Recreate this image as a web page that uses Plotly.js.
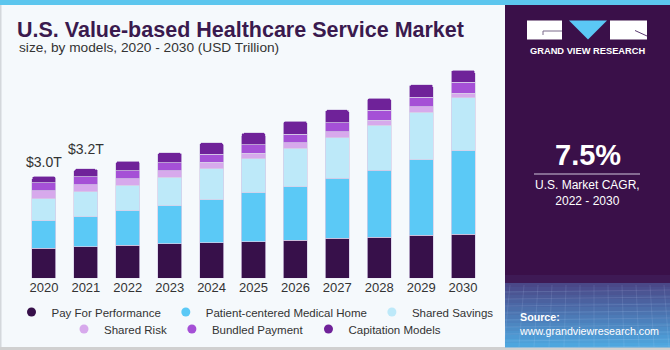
<!DOCTYPE html>
<html>
<head>
<meta charset="utf-8">
<script src="https://cdn.plot.ly/plotly-3.0.1.min.js"></script>
<style>
  html, body { margin: 0; padding: 0; background: #f5f9fc; }
  #chart { width: 670px; height: 350px; }
</style>
</head>
<body>
<div id="chart"></div>
<script>
// ---- data (USD Trillion) ----
var years = ['2020','2021','2022','2023','2024','2025','2026','2027','2028','2029','2030'];
var payForPerformance = [0.89, 0.93, 0.97, 1.01, 1.05, 1.08, 1.12, 1.18, 1.21, 1.27, 1.30];
var patientCenteredMedicalHome = [0.80, 0.88, 1.01, 1.12, 1.26, 1.43, 1.58, 1.77, 1.97, 2.21, 2.45];
var sharedSavings = [0.65, 0.73, 0.76, 0.84, 0.91, 1.00, 1.13, 1.19, 1.32, 1.41, 1.56];
var sharedRisk = [0.23, 0.21, 0.19, 0.19, 0.19, 0.17, 0.16, 0.17, 0.15, 0.15, 0.13];
var bundledPayment = [0.24, 0.24, 0.23, 0.24, 0.24, 0.25, 0.25, 0.27, 0.29, 0.29, 0.33];
var capitationModels = [0.19, 0.23, 0.29, 0.30, 0.34, 0.35, 0.38, 0.38, 0.36, 0.37, 0.35];
var seriesNames = ['Pay For Performance', 'Patient-centered Medical Home', 'Shared Savings',
                   'Shared Risk', 'Bundled Payment', 'Capitation Models'];
var labelYears = ['2020', '2021'];
var labelTexts = ['$3.0T', '$3.2T'];
var cagrText = '7.5%';

// ---- styles ----
var FONT = 'Liberation Sans, Arial, sans-serif';
var colors = ['#37104a', '#5bc9f6', '#bde9f9', '#d7a9ec', '#a550d6', '#6f2299'];
var series = [payForPerformance, patientCenteredMedicalHome, sharedSavings, sharedRisk, bundledPayment, capitationModels];

function P(x) { return x / 670; }
function Q(y) { return 1 - y / 350; }

var traces = [];
series.forEach(function (vals, i) {
  traces.push({
    type: 'bar', x: years, y: vals, name: seriesNames[i],
    marker: { color: colors[i], line: { color: 'rgba(215,205,232,0.9)', width: 0.8 } },
    showlegend: false, hoverinfo: 'x+y+name'
  });
});
// legend-only marker traces on hidden axes (circle symbols like the reference)
series.forEach(function (vals, i) {
  traces.push({
    type: 'scatter', mode: 'markers', x: [0], y: [null], name: seriesNames[i],
    xaxis: 'x2', yaxis: 'y2',
    marker: { color: colors[i], size: 9, symbol: 'circle' },
    legend: i < 3 ? 'legend' : 'legend2', showlegend: true, hoverinfo: 'skip'
  });
});

// totals for labels (x given as category index)
var annotations = [];
labelYears.forEach(function (yr, k) {
  var idx = years.indexOf(yr);
  var tot = 0;
  series.forEach(function (s) { tot += s[idx]; });
  annotations.push({
    x: idx, y: tot, xref: 'x', yref: 'y', text: labelTexts[k], showarrow: false,
    xanchor: 'center', yanchor: 'bottom', yshift: k === 0 ? 4 : 10,
    font: { family: FONT, size: 14, color: '#333333' }
  });
});

// subtitle
annotations.push({
  xref: 'paper', yref: 'paper', x: P(17), y: Q(48), xanchor: 'left', yanchor: 'middle',
  text: 'size, by models, 2020 - 2030 (USD Trillion)', showarrow: false,
  font: { family: FONT, size: 13.7, color: '#333333' }
});
// panel texts
annotations.push({
  xref: 'paper', yref: 'paper', x: P(587), y: Q(51.5), xanchor: 'center', yanchor: 'middle',
  text: '<b>GRAND VIEW RESEARCH</b>', showarrow: false,
  font: { family: FONT, size: 9.3, color: '#ffffff' }
});
annotations.push({
  xref: 'paper', yref: 'paper', x: P(588), y: Q(155), xanchor: 'center', yanchor: 'middle',
  text: '<b>' + cagrText + '</b>', showarrow: false,
  font: { family: FONT, size: 29, color: '#ffffff' }
});
annotations.push({
  xref: 'paper', yref: 'paper', x: P(587), y: Q(193), xanchor: 'center', yanchor: 'middle',
  text: 'U.S. Market CAGR,<br>2022 - 2030', showarrow: false,
  font: { family: FONT, size: 12, color: '#ffffff' }
});
annotations.push({
  xref: 'paper', yref: 'paper', x: P(517), y: Q(323.5), xanchor: 'left', yanchor: 'middle', align: 'left',
  text: '<b>Source:</b><br>www.grandviewresearch.com', showarrow: false,
  font: { family: FONT, size: 10.7, color: '#ffffff' }
});

// ---- decorative shapes ----
var shapes = [];
function rect(x0, y0, x1, y1, color, layer) {
  shapes.push({ type: 'rect', xref: 'paper', yref: 'paper', x0: P(x0), x1: P(x1), y0: Q(y1), y1: Q(y0),
    fillcolor: color, line: { width: 0 }, layer: layer || 'below' });
}
rect(0, 0, 670, 5, '#5cc6ee');
rect(0, 5, 1.5, 350, '#d4d8dc');
rect(0, 347, 670, 350, '#d0d0d0');
rect(505, 5, 670, 347, '#3a1049');
rect(505, 275, 670, 283, '#3e1a55');
function lerp(a, b, t) { return Math.round(a + (b - a) * t); }
var c0 = [74, 72, 136], c1 = [78, 166, 222];
var nB = 16;
for (var b = 0; b < nB; b++) {
  var t = b / (nB - 1);
  var col = 'rgb(' + lerp(c0[0], c1[0], t) + ',' + lerp(c0[1], c1[1], t) + ',' + lerp(c0[2], c1[2], t) + ')';
  rect(505, 283 + b * 4, 670, 283 + (b + 1) * 4 + 0.5, col);
}
for (var g = 0; g < 9; g++) {
  var yy = 290 + g * 7;
  shapes.push({ type: 'line', xref: 'paper', yref: 'paper', x0: P(505), x1: P(670), y0: Q(yy + 2), y1: Q(yy),
    line: { color: 'rgba(200,220,255,0.18)', width: 0.8 }, layer: 'below' });
}
for (var v = 0; v < 12; v++) {
  var xx = 510 + v * 14;
  shapes.push({ type: 'line', xref: 'paper', yref: 'paper', x0: P(xx), x1: P(xx - 6 + v), y0: Q(285), y1: Q(347),
    line: { color: 'rgba(200,220,255,0.15)', width: 0.8 }, layer: 'below' });
}
shapes.push({ type: 'line', xref: 'paper', yref: 'paper', x0: P(534), x1: P(640), y0: Q(174), y1: Q(174),
  line: { color: '#cfc6dc', width: 1 }, layer: 'above' });
rect(527, 20.5, 562, 39.5, '#ffffff', 'above');
rect(610, 20.5, 647, 39.5, '#ffffff', 'above');
shapes.push({ type: 'path', xref: 'paper', yref: 'paper',
  path: 'M ' + P(569) + ',' + Q(20.5) + ' L ' + P(607) + ',' + Q(20.5) + ' L ' + P(588) + ',' + Q(39.5) + ' Z',
  fillcolor: '#5bc8f5', line: { width: 0 }, layer: 'above' });
shapes.push({ type: 'path', xref: 'paper', yref: 'paper',
  path: 'M ' + P(562) + ',' + Q(31) + ' L ' + P(543) + ',' + Q(31) + ' L ' + P(543) + ',' + Q(35),
  line: { color: '#7a6a8a', width: 1 }, layer: 'above' });
shapes.push({ type: 'line', xref: 'paper', yref: 'paper', x0: P(635), x1: P(647), y0: Q(30.5), y1: Q(36),
  line: { color: '#5a3a70', width: 1 }, layer: 'above' });

var legendBase = {
  orientation: 'h', xref: 'paper', yref: 'paper', x: P(255), xanchor: 'center', yanchor: 'middle',
  bgcolor: 'rgba(0,0,0,0)', font: { family: FONT, size: 11.5, color: '#333333' }, traceorder: 'normal'
};
var legend1 = Object.assign({}, legendBase, { y: Q(312) });
var legend2 = Object.assign({}, legendBase, { y: Q(329) });

var layout = {
  width: 670, height: 350,
  margin: { l: 0, r: 0, t: 0, b: 0, pad: 0 },
  paper_bgcolor: '#f5f9fc', plot_bgcolor: 'rgba(0,0,0,0)',
  barmode: 'stack', bargap: 0.427, barcornerradius: 3,
  title: {
    text: '<b>U.S. Value-based Healthcare Service Market</b>',
    xref: 'container', yref: 'container', x: P(17), xanchor: 'left', y: Q(29), yanchor: 'middle',
    font: { family: FONT, size: 21.5, color: '#3a1a4e' }
  },
  xaxis: {
    domain: [P(23), P(484)], type: 'category', categoryorder: 'array', categoryarray: years,
    range: [-0.5, 10.5], showgrid: false, zeroline: false, showline: false,
    ticks: '', tickfont: { family: FONT, size: 13, color: '#333333' }, fixedrange: true
  },
  yaxis: { domain: [Q(278.3), Q(57.3)], range: [0, 6.5], visible: false, fixedrange: true },
  xaxis2: { domain: [0, 0.01], visible: false, range: [0, 1], anchor: 'y2' },
  yaxis2: { domain: [0, 0.01], visible: false, range: [0, 1], anchor: 'x2' },
  showlegend: true,
  legend: legend1,
  legend2: legend2,
  annotations: annotations,
  shapes: shapes
};

Plotly.newPlot('chart', traces, layout, { displayModeBar: false, staticPlot: true });
</script>
</body>
</html>
